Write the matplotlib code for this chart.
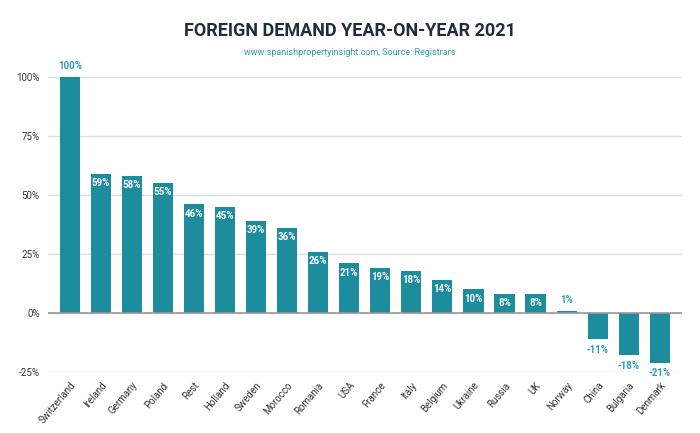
import matplotlib
import matplotlib.pyplot as plt

matplotlib.use('Agg')

plt.rcParams["font.family"] = ["Roboto", "DejaVu Sans"]

# data
countries = ['Switzerland', 'Ireland', 'Germany', 'Poland', 'Rest', 'Holland', 'Sweden',
             'Morocco', 'Romania', 'USA', 'France', 'Italy', 'Belgium', 'Ukraine',
             'Russia', 'UK', 'Norway', 'China', 'Bulgaria', 'Denmark']
values = [100, 59, 58, 55, 46, 45, 39, 36, 26, 21, 19, 18, 14, 10, 8, 8, 1, -11, -18, -21]
yticks = [-25, 0, 25, 50, 75, 100]

bar_color = '#1d8d9d'
label_teal = '#2e9fae'

fig = plt.figure(figsize=(7, 4.33), dpi=100)
ax = fig.add_axes([0.0686, 0.141, 0.905, 0.681])

x = list(range(len(countries)))
ax.bar(x, values, width=0.65, color=bar_color, zorder=3)

ax.set_xlim(-0.7, len(countries) - 0.3)
ax.set_ylim(-25, 100)
ax.set_yticks(yticks)
ax.set_yticklabels([f"{t}%" for t in yticks], fontsize=7, color='#333333')
ax.set_xticks(x)
ax.set_xticklabels(countries, rotation=50, ha='right', rotation_mode='anchor',
                   fontsize=7, color='#333333')
ax.tick_params(length=0, pad=6)

for s in ax.spines.values():
    s.set_visible(False)
ax.grid(axis='y', color='#dddddd', linewidth=1, zorder=0)
ax.axhline(0, color='#999999', linewidth=1.2, zorder=4)

# value labels
for xi, v in zip(x, values):
    if v >= 5 and v < 100:
        ax.text(xi, v - 1.8, f"{v}%", ha='center', va='top', fontsize=7,
                fontweight='bold', color='white', zorder=5)
    elif v >= 0:
        ax.text(xi, v + 2.5, f"{v}%", ha='center', va='bottom', fontsize=7,
                fontweight='bold', color=label_teal, zorder=5, clip_on=False)
    else:
        ax.text(xi, v - 2.5, f"{v}%", ha='center', va='top', fontsize=7,
                fontweight='bold', color=label_teal, zorder=5, clip_on=False)

fig.text(0.5, 0.928, "FOREIGN DEMAND YEAR-ON-YEAR 2021", ha='center', va='center',
         fontsize=13, fontweight='bold', color='#1f2d3d')
fig.text(0.5, 0.878, "www.spanishpropertyinsight.com, Source: Registrars", ha='center',
         va='center', fontsize=6.5, color=label_teal)

plt.savefig('out.png', dpi=100)
